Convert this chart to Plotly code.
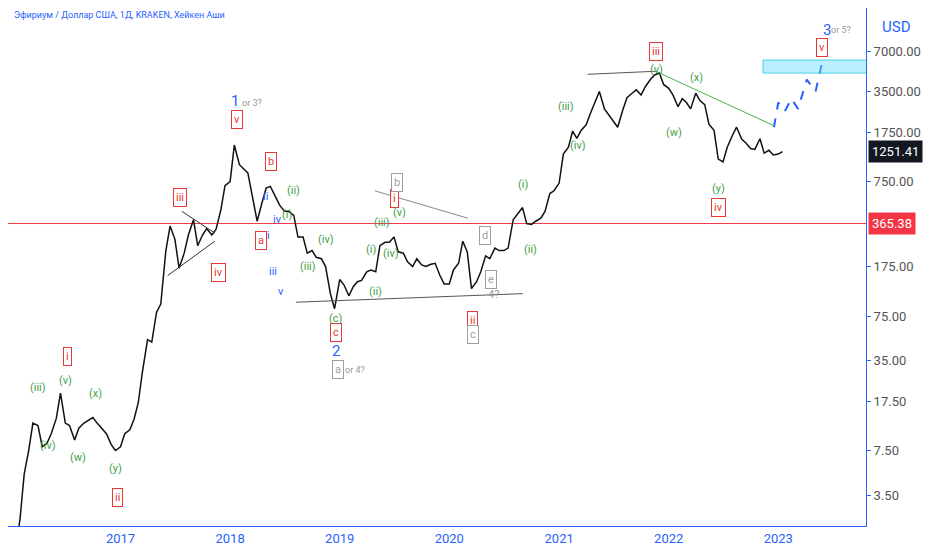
import math
import pandas as pd
import plotly.graph_objects as go

# semi-monthly closes (USD, log scale)
dates = pd.date_range("2016-01-01", periods=170, freq="SMS")
closes = [
    0.95, 1.3, 2.3, 5, 7.5, 12, 11.5, 8, 8.5, 10, 13, 20, 12, 11.5, 9, 11, 12, 12.5, 13.2, 12, 10.8, 10, 8.3, 7.5,
    8, 10, 10.7, 12.8, 17, 29, 50, 48, 80, 92, 230, 350, 280, 170, 220, 300, 390, 250, 300, 335, 300, 330, 460, 700,
    750, 1400, 1000, 930, 870, 600, 380, 500, 670, 690, 580, 500, 450, 450, 420, 290, 290, 220, 230, 205, 200, 175, 110, 85,
    140, 128, 106, 124, 135, 138, 160, 165, 160, 250, 265, 265, 290, 225, 220, 190, 175, 200, 180, 175, 182, 185, 150, 130,
    130, 165, 185, 270, 225, 120, 135, 160, 210, 200, 240, 230, 230, 240, 390, 430, 480, 365, 360, 380, 400, 450, 610, 640,
    730, 1200, 1350, 1780, 1570, 1800, 1980, 2400, 2950, 3500, 2600, 2350, 2100, 1900, 2550, 3150, 3400, 3600, 3300, 3800, 4300, 4650, 4800, 3950,
    3700, 3300, 2700, 3100, 2900, 2600, 3400, 3000, 2800, 2000, 1800, 1100, 1050, 1350, 1650, 1900, 1550, 1450, 1320, 1300, 1560, 1220, 1280, 1180,
    1200, 1251.41,
]
last_price = 1251.41
level_price = 365.38

y_ticks = [3.5, 7.5, 17.5, 35, 75, 175, 750, 1750, 3500, 7000]

# wave labels: (text, fractional year, price, colour, circled)
labels = [
    ("iii", 2021.88, 6900, "red", True), ("v", 2023.40, 7400, "red", True),
    ("iii", 2017.54, 575, "red", True), ("iv", 2017.89, 157, "red", True),
    ("v", 2018.06, 2150, "red", True), ("b", 2018.37, 1065, "red", True),
    ("a", 2018.28, 275, "red", True), ("c", 2018.97, 57, "red", True),
    ("i", 2019.50, 560, "red", True), ("ii", 2020.21, 70, "red", True),
    ("iv", 2022.45, 484, "red", True), ("i", 2016.52, 37.8, "red", True),
    ("ii", 2016.97, 3.38, "red", True),
    ("b", 2019.52, 740, "grey", True), ("d", 2020.33, 300, "grey", True),
    ("e", 2020.38, 139, "grey", True), ("c", 2020.22, 55, "grey", True),
    ("a", 2018.98, 30, "grey", True), ("4?", 2020.40, 108, "grey", False),
    ("1", 2018.04, 2970, "blue", False), ("2", 2018.97, 41, "blue", False),
    ("3", 2023.44, 10000, "blue", False),
    ("ii", 2018.32, 580, "blue", False), ("iv", 2018.43, 390, "blue", False),
    ("i", 2018.35, 300, "blue", False), ("iii", 2018.39, 160, "blue", False),
    ("v", 2018.46, 115, "blue", False),
    ("(iii)", 2016.25, 22, "green", False), ("(v)", 2016.50, 25, "green", False),
    ("(x)", 2016.77, 20, "green", False), ("(iv)", 2016.34, 8.2, "green", False),
    ("(w)", 2016.61, 6.7, "green", False), ("(y)", 2016.96, 5.5, "green", False),
    ("(ii)", 2018.58, 640, "green", False), ("(i)", 2018.52, 430, "green", False),
    ("(iv)", 2018.87, 280, "green", False), ("(iii)", 2018.71, 175, "green", False),
    ("(iii)", 2019.39, 370, "green", False), ("(v)", 2019.55, 440, "green", False),
    ("(i)", 2019.29, 235, "green", False), ("(iv)", 2019.47, 220, "green", False),
    ("(ii)", 2019.33, 115, "green", False), ("(c)", 2018.97, 72, "green", False),
    ("(i)", 2020.67, 715, "green", False), ("(ii)", 2020.74, 235, "green", False),
    ("(iii)", 2021.06, 2700, "green", False), ("(iv)", 2021.17, 1400, "green", False),
    ("(v)", 2021.89, 5100, "green", False), ("(x)", 2022.25, 4450, "green", False),
    ("(w)", 2022.05, 1750, "green", False), ("(y)", 2022.45, 670, "green", False),
]
small_notes = [("or 3?", 2018.20, 2900), ("or 4?", 2019.14, 30), ("or 5?", 2023.57, 10000)]

# trend lines: (year0, price0, year1, price1, colour)
lines = [
    (2021.26, 4700, 2021.88, 4950, "#555"),
    (2018.6, 95, 2020.67, 110, "#555"),
    (2019.32, 640, 2020.17, 400, "#888"),
    (2017.43, 150, 2017.86, 270, "#333"),
    (2017.56, 450, 2017.86, 310, "#333"),
    (2021.88, 4950, 2022.96, 1950, "#4caf50"),
]
proj_years = [2022.96, 2023.00, 2023.06, 2023.12, 2023.18, 2023.26, 2023.34, 2023.40]
proj_prices = [1900, 2900, 2500, 3100, 2600, 4300, 3500, 5800]

x_start, x_end = 2015.975, 2023.80


def to_date(y):
    year = int(y)
    start = pd.Timestamp(year=year, month=1, day=1)
    return start + pd.Timedelta(days=(y - year) * 365.25)


fig = go.Figure()
fig.add_trace(go.Scatter(x=[to_date(x_start), to_date(x_end)], y=[level_price, level_price], mode="lines",
                         line=dict(color="#f23645", width=1), showlegend=False, hoverinfo="skip"))
fig.add_trace(go.Scatter(x=dates, y=closes, mode="lines", line=dict(color="#111", width=1.5), showlegend=False))

fig.add_shape(type="rect", x0=to_date(2022.86), x1=to_date(2023.87), y0=4800, y1=6000,
              fillcolor="rgba(100,220,255,0.45)", line=dict(color="#4dd0e1", width=1))
for y0, p0, y1, p1, c in lines:
    fig.add_shape(type="line", x0=to_date(y0), y0=p0, x1=to_date(y1), y1=p1, line=dict(color=c, width=1))
fig.add_trace(go.Scatter(x=[to_date(v) for v in proj_years], y=proj_prices, mode="lines",
                         line=dict(color="#2962ff", width=2, dash="dash"), showlegend=False))

colours = {"red": "#e53935", "grey": "#9e9e9e", "blue": "#2962ff", "green": "#43a047"}
for text, yr, price, c, circled in labels:
    big = c == "blue" and text in ("1", "2", "3")
    fig.add_annotation(x=to_date(yr), y=math.log10(price), text=text, showarrow=False,
                       font=dict(color=colours[c], size=15 if big else 11),
                       bordercolor=colours[c] if circled else "rgba(0,0,0,0)", borderwidth=1,
                       borderpad=2, bgcolor="white" if circled else "rgba(0,0,0,0)")
for text, yr, price in small_notes:
    fig.add_annotation(x=to_date(yr), y=math.log10(price), text=text, showarrow=False,
                       font=dict(color="#999", size=9))

for price, bg in [(last_price, "#131722"), (level_price, "#f23645")]:
    fig.add_annotation(x=1, xref="paper", y=math.log10(price), text=f"{price:.2f}", showarrow=False,
                       xanchor="left", xshift=2, bgcolor=bg, font=dict(color="white", size=13), borderpad=3)
fig.add_annotation(x=0.005, xref="paper", y=1, yref="paper", text="Эфириум / Доллар США, 1Д, KRAKEN, Хейкен Аши",
                   showarrow=False, xanchor="left", yanchor="top", font=dict(color="#2962ff", size=9))
fig.add_annotation(x=1, xref="paper", y=0.985, yref="paper", text="USD", showarrow=False, xanchor="left",
                   xshift=14, yanchor="top", font=dict(color="#2962ff", size=15))

fig.update_layout(
    width=932, height=550, margin=dict(l=0, r=74, t=0, b=32),
    plot_bgcolor="white", paper_bgcolor="white", font=dict(family="Roboto"),
)
fig.update_xaxes(range=[to_date(x_start), to_date(x_end)], showgrid=False, dtick="M12", tickformat="%Y",
                 tick0="2016-01-01", tickfont=dict(color="#2962ff", size=13), showline=True, linecolor="#2962ff")
fig.update_yaxes(type="log", side="right", range=[0.314, 4.165], tickvals=y_ticks,
                 ticktext=[f"{v:.2f}" for v in y_ticks], showgrid=False, tickfont=dict(color="#555", size=13),
                 showline=True, linecolor="#2962ff", ticks="outside", ticklen=4, tickcolor="#2962ff")

fig.write_html("out.html")
